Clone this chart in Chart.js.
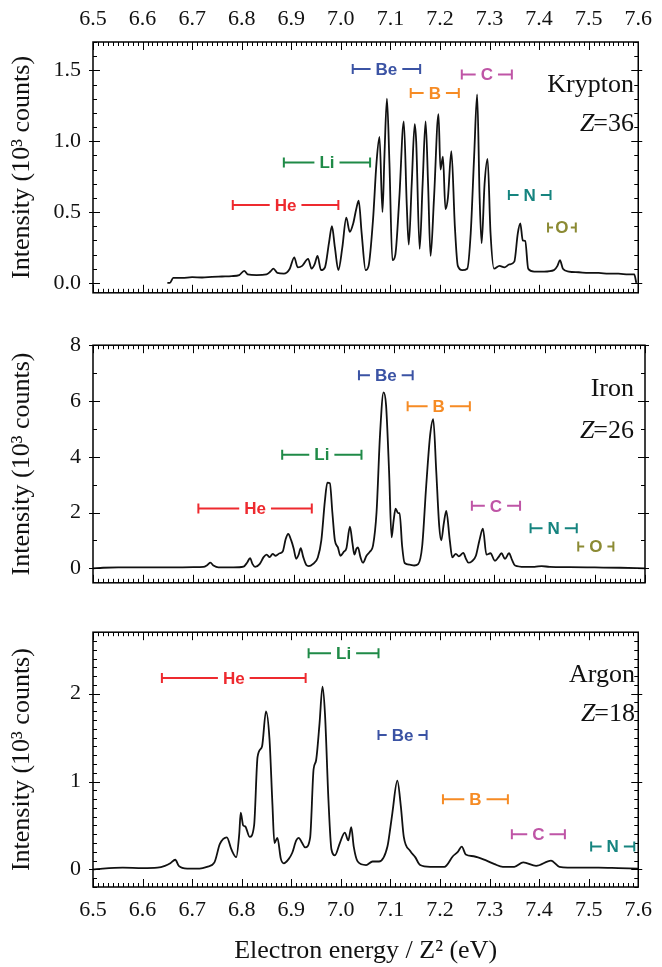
<!DOCTYPE html>
<html>
<head>
<meta charset="utf-8">
<script src="https://cdn.jsdelivr.net/npm/chart.js@4.4.0/dist/chart.umd.min.js"></script>
<style>
  body { margin: 0; background: #fff; }
  #wrap { position: relative; width: 662px; height: 967px; }
  canvas { position: absolute; left: 0; }
</style>
</head>
<body>
<div id="wrap">
  <canvas id="kr" width="662" height="318" style="top:0px"></canvas>
  <canvas id="fe" width="662" height="288" style="top:320px"></canvas>
  <canvas id="ar" width="662" height="360" style="top:607px"></canvas>
</div>
<script>
// x axis (shared)
const xTicks = [6.5, 6.6, 6.7, 6.8, 6.9, 7.0, 7.1, 7.2, 7.3, 7.4, 7.5, 7.6];

// Krypton, Z=36
const kryptonEnergy = [6.650, 6.655, 6.662, 6.680, 6.700, 6.720, 6.740, 6.760, 6.780, 6.795, 6.805, 6.812, 6.830, 6.850, 6.858, 6.864, 6.872, 6.885, 6.897, 6.906, 6.913, 6.922, 6.934, 6.941, 6.947, 6.953, 6.960, 6.968, 6.976, 6.982, 6.988, 6.995, 7.003, 7.011, 7.018, 7.025, 7.031, 7.036, 7.042, 7.050, 7.056, 7.065, 7.072, 7.078, 7.084, 7.088, 7.093, 7.098, 7.104, 7.110, 7.118, 7.127, 7.133, 7.137, 7.143, 7.149, 7.152, 7.159, 7.165, 7.171, 7.176, 7.181, 7.188, 7.197, 7.201, 7.206, 7.211, 7.216, 7.223, 7.230, 7.236, 7.245, 7.255, 7.262, 7.269, 7.275, 7.280, 7.284, 7.290, 7.296, 7.302, 7.309, 7.320, 7.330, 7.340, 7.350, 7.357, 7.362, 7.367, 7.372, 7.378, 7.390, 7.410, 7.430, 7.437, 7.442, 7.448, 7.460, 7.480, 7.500, 7.520, 7.540, 7.560, 7.580, 7.592, 7.596];
const kryptonCounts = [0.00, 0.00, 0.035, 0.035, 0.040, 0.038, 0.042, 0.045, 0.048, 0.055, 0.085, 0.06, 0.055, 0.06, 0.08, 0.10, 0.07, 0.065, 0.10, 0.18, 0.11, 0.12, 0.17, 0.10, 0.13, 0.19, 0.09, 0.11, 0.28, 0.40, 0.25, 0.09, 0.25, 0.46, 0.36, 0.42, 0.52, 0.58, 0.35, 0.09, 0.12, 0.45, 0.85, 1.03, 0.50, 0.90, 1.30, 0.85, 0.16, 0.20, 0.60, 1.14, 0.55, 0.27, 0.70, 1.12, 1.00, 0.24, 0.70, 1.14, 0.70, 0.19, 0.60, 1.19, 0.80, 0.89, 0.52, 0.60, 0.93, 0.40, 0.12, 0.09, 0.10, 0.35, 0.90, 1.33, 0.60, 0.28, 0.70, 0.875, 0.35, 0.10, 0.12, 0.11, 0.13, 0.15, 0.35, 0.42, 0.30, 0.295, 0.10, 0.08, 0.08, 0.09, 0.12, 0.16, 0.10, 0.08, 0.075, 0.07, 0.07, 0.065, 0.065, 0.06, 0.06, 0.00];
const kryptonYTicks = [0.0, 0.5, 1.0, 1.5];
const kryptonBandIon = ['He', 'Li', 'Be', 'B', 'C', 'N', 'O'];
const kryptonBandFrom = [6.782, 6.885, 7.024, 7.141, 7.244, 7.339, 7.418];
const kryptonBandTo = [6.995, 7.059, 7.160, 7.238, 7.345, 7.423, 7.474];
const kryptonBandLevel = [0.55, 0.85, 1.51, 1.34, 1.47, 0.62, 0.39];

// Iron, Z=26
const ironEnergy = [6.500, 6.520, 6.550, 6.600, 6.650, 6.700, 6.720, 6.728, 6.734, 6.740, 6.750, 6.780, 6.800, 6.807, 6.813, 6.818, 6.823, 6.832, 6.840, 6.846, 6.852, 6.858, 6.864, 6.872, 6.878, 6.884, 6.889, 6.895, 6.900, 6.905, 6.910, 6.914, 6.919, 6.925, 6.930, 6.938, 6.948, 6.955, 6.962, 6.967, 6.972, 6.977, 6.982, 6.988, 6.993, 7.000, 7.005, 7.012, 7.017, 7.021, 7.025, 7.028, 7.033, 7.038, 7.045, 7.052, 7.058, 7.065, 7.072, 7.079, 7.084, 7.090, 7.095, 7.099, 7.103, 7.108, 7.111, 7.116, 7.121, 7.131, 7.140, 7.148, 7.156, 7.164, 7.172, 7.178, 7.184, 7.190, 7.194, 7.199, 7.204, 7.211, 7.216, 7.223, 7.229, 7.238, 7.243, 7.248, 7.255, 7.263, 7.270, 7.277, 7.284, 7.292, 7.301, 7.308, 7.314, 7.321, 7.329, 7.335, 7.341, 7.360, 7.380, 7.394, 7.410, 7.450, 7.500, 7.550, 7.600];
const ironCounts = [0.00, 0.02, 0.03, 0.03, 0.03, 0.04, 0.05, 0.12, 0.20, 0.10, 0.03, 0.03, 0.06, 0.20, 0.36, 0.15, 0.05, 0.15, 0.40, 0.49, 0.40, 0.52, 0.45, 0.54, 0.60, 1.05, 1.23, 1.00, 0.70, 0.34, 0.50, 0.72, 0.40, 0.12, 0.08, 0.15, 0.39, 1.00, 2.40, 3.07, 3.05, 2.00, 1.00, 0.75, 0.45, 0.60, 0.72, 1.49, 0.90, 0.49, 0.70, 0.75, 0.40, 0.20, 0.45, 0.60, 0.81, 2.00, 4.80, 6.31, 5.85, 3.48, 1.11, 1.70, 2.14, 1.98, 1.98, 0.80, 0.19, 0.13, 0.10, 0.15, 0.80, 2.96, 4.80, 5.35, 3.48, 1.50, 1.00, 1.60, 2.06, 1.00, 0.39, 0.52, 0.43, 0.55, 0.35, 0.20, 0.25, 0.45, 1.00, 1.42, 0.49, 0.54, 0.27, 0.40, 0.54, 0.34, 0.54, 0.30, 0.10, 0.05, 0.05, 0.08, 0.05, 0.04, 0.03, 0.02, 0.00];
const ironYTicks = [0, 2, 4, 6, 8];
const ironBandIon = ['He', 'Li', 'Be', 'B', 'C', 'N', 'O'];
const ironBandFrom = [6.710, 6.877, 7.030, 7.127, 7.255, 7.372, 7.467];
const ironBandTo = [6.936, 7.035, 7.137, 7.251, 7.351, 7.464, 7.537];
const ironBandLevel = [2.14, 4.07, 6.92, 5.81, 2.24, 1.44, 0.78];

// Argon, Z=18
const argonEnergy = [6.500, 6.520, 6.560, 6.600, 6.630, 6.645, 6.656, 6.666, 6.673, 6.690, 6.715, 6.730, 6.745, 6.756, 6.770, 6.779, 6.789, 6.795, 6.798, 6.803, 6.807, 6.816, 6.825, 6.832, 6.841, 6.849, 6.856, 6.862, 6.866, 6.872, 6.879, 6.885, 6.895, 6.902, 6.910, 6.915, 6.922, 6.928, 6.938, 6.945, 6.950, 6.957, 6.963, 6.968, 6.975, 6.981, 6.988, 6.998, 7.008, 7.015, 7.021, 7.026, 7.034, 7.051, 7.064, 7.077, 7.094, 7.100, 7.104, 7.114, 7.121, 7.127, 7.140, 7.150, 7.160, 7.180, 7.209, 7.226, 7.236, 7.244, 7.252, 7.268, 7.294, 7.310, 7.327, 7.350, 7.368, 7.394, 7.424, 7.441, 7.480, 7.520, 7.560, 7.600];
const argonCounts = [0.00, 0.01, 0.02, 0.015, 0.02, 0.04, 0.07, 0.11, 0.04, 0.01, 0.01, 0.03, 0.08, 0.29, 0.365, 0.23, 0.14, 0.40, 0.645, 0.50, 0.49, 0.37, 0.50, 1.28, 1.40, 1.80, 1.49, 0.74, 0.30, 0.36, 0.12, 0.07, 0.12, 0.19, 0.33, 0.36, 0.30, 0.25, 0.36, 1.14, 1.24, 1.66, 2.08, 1.77, 0.79, 0.23, 0.16, 0.30, 0.42, 0.33, 0.48, 0.26, 0.09, 0.05, 0.09, 0.09, 0.26, 0.48, 0.645, 1.01, 0.72, 0.37, 0.21, 0.14, 0.05, 0.03, 0.03, 0.15, 0.20, 0.26, 0.17, 0.15, 0.10, 0.06, 0.03, 0.03, 0.08, 0.04, 0.10, 0.03, 0.02, 0.02, 0.015, 0.01];
const argonYTicks = [0, 1, 2];
const argonBandIon = ['He', 'Li', 'Be', 'B', 'C', 'N'];
const argonBandFrom = [6.639, 6.935, 7.076, 7.206, 7.345, 7.505];
const argonBandTo = [6.929, 7.076, 7.173, 7.337, 7.452, 7.592];
const argonBandLevel = [2.18, 2.46, 1.53, 0.80, 0.40, 0.26];

const ionColor = { He: '#ee2a2f', Li: '#1f8a47', Be: '#3b53a4', B: '#f68b24', C: '#bf55a6', N: '#16847f', O: '#8b8a33' };
const serif = '"Liberation Serif", "Times New Roman", serif';
Chart.defaults.font.family = serif;
Chart.defaults.color = '#111';

// frame, ruler ticks, ion bands and element name
const panelDecor = {
    id: 'panelDecor',
    afterDraw(chart, args, o) {
        const ctx = chart.ctx;
        const a = chart.chartArea;
        const xs = chart.scales.x, ys = chart.scales.y;
        ctx.save();
        ctx.strokeStyle = '#000';
        ctx.lineWidth = 1;
        ctx.beginPath();
        for (let i = 0; i <= 110; i++) {
            const px = Math.round(xs.getPixelForValue(6.5 + i / 100)) + 0.5;
            const len = i % 10 === 0 ? 8 : 4;
            ctx.moveTo(px, a.top); ctx.lineTo(px, a.top + len);
            ctx.moveTo(px, a.bottom); ctx.lineTo(px, a.bottom - len);
        }
        const k0 = Math.ceil(ys.min / o.minorStep - 1e-6);
        const k1 = Math.floor(ys.max / o.minorStep + 1e-6);
        for (let k = k0; k <= k1; k++) {
            const v = k * o.minorStep;
            const major = o.yTicks.some(t => Math.abs(t - v) < 1e-6);
            const py = Math.round(ys.getPixelForValue(v)) + 0.5;
            const inLen = major ? 7 : 4, outLen = major ? 4 : 0;
            ctx.moveTo(a.left - outLen, py); ctx.lineTo(a.left + inLen, py);
            ctx.moveTo(a.right + outLen, py); ctx.lineTo(a.right - inLen, py);
        }
        ctx.stroke();
        ctx.lineWidth = 1.5;
        ctx.strokeRect(a.left, a.top, a.right - a.left, a.bottom - a.top);

        // ion bands
        ctx.font = 'bold 17px "Liberation Sans", Arial, sans-serif';
        ctx.textAlign = 'center';
        ctx.textBaseline = 'middle';
        ctx.lineWidth = 2;
        o.bands.ion.forEach((ion, i) => {
            const x1 = xs.getPixelForValue(o.bands.from[i]);
            const x2 = xs.getPixelForValue(o.bands.to[i]);
            const y = ys.getPixelForValue(o.bands.level[i]);
            const cx = (x1 + x2) / 2;
            const tw = ctx.measureText(ion).width;
            const gap = Math.min(5, Math.max(1.5, (x2 - x1 - tw) / 2 - 5));
            ctx.strokeStyle = ctx.fillStyle = ionColor[ion];
            ctx.beginPath();
            ctx.moveTo(x1, y - 5); ctx.lineTo(x1, y + 5);
            ctx.moveTo(x2, y - 5); ctx.lineTo(x2, y + 5);
            ctx.moveTo(x1, y); ctx.lineTo(cx - tw / 2 - gap, y);
            ctx.moveTo(cx + tw / 2 + gap, y); ctx.lineTo(x2, y);
            ctx.stroke();
            ctx.fillText(ion, cx, y + 1);
        });

        // element name and Z
        ctx.fillStyle = '#111';
        ctx.textAlign = 'left';
        ctx.textBaseline = 'alphabetic';
        ctx.font = '26px ' + serif;
        const nw = ctx.measureText(o.name).width;
        ctx.fillText(o.name, o.labelRight - nw, a.top + o.nameBase);
        const rest = '=' + o.z;
        const rw = ctx.measureText(rest).width;
        ctx.font = 'italic 26px ' + serif;
        const zw = ctx.measureText('Z').width;
        ctx.fillText('Z', o.labelRight - rw - zw + 1, a.top + o.zBase);
        ctx.font = '26px ' + serif;
        ctx.fillText(rest, o.labelRight - rw, a.top + o.zBase);
        ctx.restore();
    }
};

function pairs(xv, yv) {
    return xv.map((x, i) => ({ x: x, y: yv[i] }));
}

function makePanel(id, cfg) {
    const xAxis = {
        type: 'linear', min: 6.5, max: 7.6,
        display: cfg.xPos !== 'none',
        position: cfg.xPos === 'none' ? 'bottom' : cfg.xPos,
        grid: { display: false, drawTicks: false },
        border: { display: false },
        afterBuildTicks: s => { s.ticks = xTicks.map(v => ({ value: v })); },
        afterFit: s => { s.height = cfg.xHeight; },
        ticks: {
            font: { size: 22 }, color: '#111', padding: 10, maxRotation: 0, autoSkip: false,
            callback: v => v.toFixed(1)
        },
        title: {
            display: !!cfg.xTitle, text: cfg.xTitle || '',
            font: { size: 26 }, color: '#111', padding: { top: 0, bottom: 0 }
        }
    };
    return new Chart(document.getElementById(id), {
        type: 'line',
        data: {
            datasets: [{
                data: pairs(cfg.energy, cfg.counts),
                borderColor: '#111', borderWidth: 1.8,
                pointRadius: 0, cubicInterpolationMode: 'monotone', fill: false
            }]
        },
        options: {
            responsive: false, animation: false,
            layout: { padding: { left: 0, right: 17, top: cfg.padTop, bottom: cfg.padBottom } },
            plugins: {
                legend: { display: false }, tooltip: { enabled: false },
                panelDecor: cfg.decor
            },
            scales: {
                x: xAxis,
                y: {
                    type: 'linear', min: cfg.yMin, max: cfg.yMax,
                    grid: { display: false, drawTicks: false },
                    border: { display: false },
                    afterBuildTicks: s => { s.ticks = cfg.decor.yTicks.map(v => ({ value: v })); },
                    afterFit: s => { s.width = 93; },
                    ticks: {
                        font: { size: 22 }, color: '#111', padding: 12,
                        callback: cfg.yFormat
                    },
                    title: {
                        display: true, text: 'Intensity (10³ counts)',
                        font: { size: 26 }, color: '#111', padding: { top: 7, bottom: 0 }
                    }
                }
            }
        },
        plugins: [panelDecor]
    });
}

makePanel('kr', {
    energy: kryptonEnergy, counts: kryptonCounts,
    yMin: -0.07, yMax: 1.70, padTop: 0, padBottom: 5,
    xPos: 'top', xHeight: 42,
    yFormat: v => v.toFixed(1),
    decor: {
        yTicks: kryptonYTicks, minorStep: 0.1,
        bands: { ion: kryptonBandIon, from: kryptonBandFrom, to: kryptonBandTo, level: kryptonBandLevel },
        name: 'Krypton', z: '36', labelRight: 634, nameBase: 50, zBase: 89
    }
});

makePanel('fe', {
    energy: ironEnergy, counts: ironCounts,
    yMin: -0.52, yMax: 8, padTop: 7, padBottom: 5,
    xPos: 'none', xHeight: 0,
    yFormat: v => String(v),
    decor: {
        yTicks: ironYTicks, minorStep: 1,
        bands: { ion: ironBandIon, from: ironBandFrom, to: ironBandTo, level: ironBandLevel },
        name: 'Iron', z: '26', labelRight: 634, nameBase: 51, zBase: 93
    }
});

makePanel('ar', {
    energy: argonEnergy, counts: argonCounts,
    yMin: -0.2, yMax: 2.7, padTop: 5, padBottom: 0,
    xPos: 'bottom', xHeight: 80, xTitle: 'Electron energy / Z² (eV)',
    yFormat: v => String(v),
    decor: {
        yTicks: argonYTicks, minorStep: 0.1,
        bands: { ion: argonBandIon, from: argonBandFrom, to: argonBandTo, level: argonBandLevel },
        name: 'Argon', z: '18', labelRight: 635, nameBase: 50, zBase: 89
    }
});
</script>
</body>
</html>
